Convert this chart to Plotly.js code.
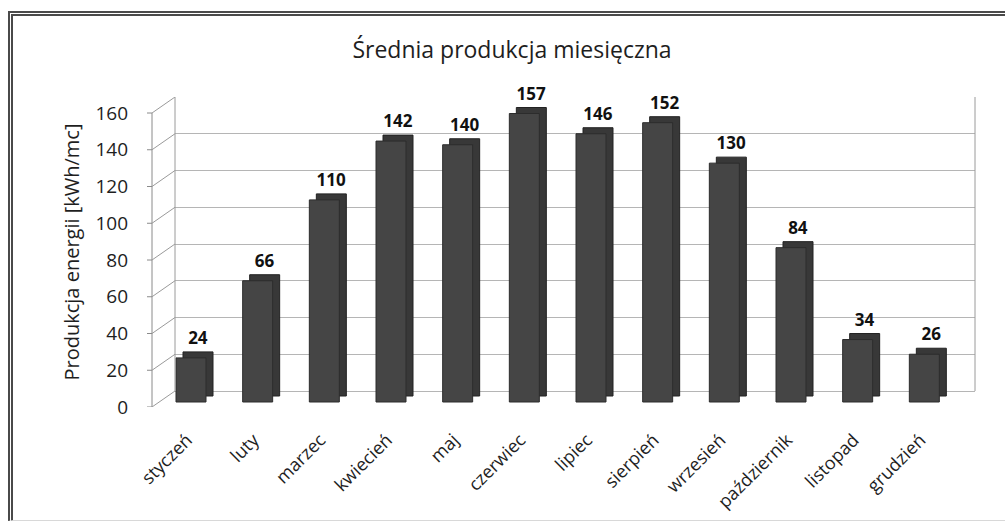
<!DOCTYPE html>
<html><head><meta charset="utf-8">
<script src="https://cdn.plot.ly/plotly-3.0.1.min.js"></script>
<style>
html,body{margin:0;padding:0;background:#fff;}
#chart{position:absolute;left:0;top:0;width:1005px;height:522px;}
#frame{position:absolute;left:8px;top:11px;width:1010px;height:504px;border-left:5px double #4a4a4a;border-top:5px double #4a4a4a;border-bottom:1px solid #d8d8d8;pointer-events:none;}
</style></head>
<body>
<div id="chart"></div>
<div id="frame"></div>
<script>
const months = ['styczeń','luty','marzec','kwiecień','maj','czerwiec','lipiec','sierpień','wrzesień','październik','listopad','grudzień'];
const values = [24,66,110,142,140,157,146,152,130,84,34,26];
const yTicks = [0,20,40,60,80,100,120,140,160];
const chartTitle = 'Średnia produkcja miesięczna';
const yTitle = 'Produkcja energii [kWh/mc]';

const FONT = '"Open Sans", Lato, sans-serif';
const PX = 1.8375;            // pixels per unit
const depthUnits = 6 / PX;    // bar depth (vertical)
const wallUnits = 16 / PX;    // back wall offset
const barUnits = 5 / PX;      // bar base offset

const back = {
  type:'bar', x: months, y: values, base: depthUnits, yaxis:'y3',
  width: 0.45, offset: -0.06,
  marker:{color:'#383838', line:{color:'#222', width:1}},
  text: values.map(String), textposition:'outside', constraintext:'none', cliponaxis:false,
  textfont:{family:FONT, size:17, color:'#111', weight:'bold'},
  hoverinfo:'skip', showlegend:false
};
const front = {
  type:'bar', x: months, y: values, yaxis:'y3',
  width: 0.45, offset: -0.165,
  marker:{color:'#454545', line:{color:'#2c2c2c', width:1}},
  showlegend:false
};

const shapes = [];
// back wall edges
shapes.push({type:'line', xref:'paper', yref:'y2', x0:0, x1:0, y0:0, y1:160, line:{color:'#9a9a9a', width:1}});
shapes.push({type:'line', xref:'paper', yref:'y2', x0:1, x1:1, y0:0, y1:160, line:{color:'#9a9a9a', width:1}});
// side wall: front axis line + diagonals + ticks
const fx = -23/800;
shapes.push({type:'line', xref:'paper', yref:'y', x0:fx, x1:fx, y0:0, y1:160, line:{color:'#8a8a8a', width:1}});
yTicks.forEach(v => {
  shapes.push({type:'line', xref:'paper', yref:'y', x0:fx, x1:0, y0:v, y1:v + wallUnits, line:{color:'#9a9a9a', width:1}});
  shapes.push({type:'line', xref:'paper', yref:'y', x0:fx - 5/800, x1:fx, y0:v, y1:v, line:{color:'#8a8a8a', width:1}});
});

const layout = {
  width:1005, height:522,
  margin:{l:175, r:30, t:97, b:115},
  paper_bgcolor:'rgba(0,0,0,0)', plot_bgcolor:'rgba(0,0,0,0)',
  font:{family:FONT, color:'#1e1e1e'},
  title:{text:chartTitle, x:512/1005, xref:'container', xanchor:'center', y:1-50/522, yref:'container', yanchor:'middle',
         font:{family:FONT, size:23, color:'#1e1e1e'}},
  barmode:'overlay',
  xaxis:{type:'category', range:[-0.18, 11.82], tickangle:-45, showgrid:false, zeroline:false, showline:false,
         ticks:'', tickfont:{family:FONT, size:18, color:'#1e1e1e'}, ticklabelstandoff:18},
  yaxis:{range:[0, 160 + wallUnits], tickvals:yTicks, showgrid:false, zeroline:false, showline:false, ticks:'',
         tickfont:{family:FONT, size:19, color:'#1e1e1e'}, ticklabelstandoff:46,
         title:{text:yTitle, font:{family:FONT, size:20, color:'#1e1e1e'}, standoff:10}},
  yaxis2:{range:[-wallUnits, 160], overlaying:'y', tickvals:yTicks, showticklabels:false, showgrid:true,
          gridcolor:'#b5b5b5', gridwidth:1, zeroline:false, showline:false, ticks:''},
  yaxis3:{range:[-barUnits, 160 + wallUnits - barUnits], overlaying:'y', showticklabels:false, showgrid:false,
          zeroline:false, showline:false, ticks:''},
  shapes: shapes
};
Plotly.newPlot('chart', [back, front], layout, {displayModeBar:false, staticPlot:true});
</script>
</body></html>
